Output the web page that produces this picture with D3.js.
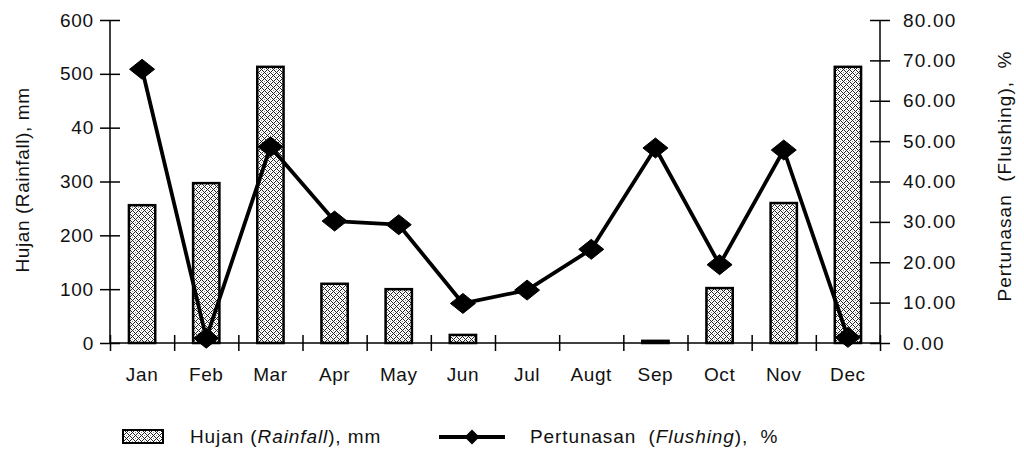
<!DOCTYPE html>
<html>
<head>
<meta charset="utf-8">
<script src="https://cdn.jsdelivr.net/npm/d3@7"></script>
<style>
	html, body { margin: 0; padding: 0; background: #fff; }
	svg { display: block; font-family: "Liberation Sans", Arial, sans-serif; }
	.axis path, .axis line { stroke: #000; stroke-width: 1.5; }
	.axis text { font-size: 19px; fill: #111; font-family: "Liberation Sans", Arial, sans-serif; }
</style>
</head>
<body>
<div id="chart"></div>
<script>
// chart values
var months = ["Jan", "Feb", "Mar", "Apr", "May", "Jun", "Jul", "Augt", "Sep", "Oct", "Nov", "Dec"];
var rainfall = [256, 297, 513, 110, 100, 15, 0, 0, 4, 102, 260, 513];
var flushing = [67.8, 1.2, 48.6, 30.2, 29.3, 9.8, 13.1, 23.2, 48.3, 19.4, 47.8, 1.4];
var leftTicks = [0, 100, 200, 300, 400, 500, 600];
var leftTickLabels = ["0", "100", "200", "300", "40", "500", "600"];
var rightTicks = [0, 10, 20, 30, 40, 50, 60, 70, 80];

var width = 1024, height = 459;
var plot = { left: 110, right: 880, top: 20, bottom: 343 };

var svg = d3.select("#chart").append("svg")
	.attr("width", width)
	.attr("height", height);

// bar fill: small diamond lattice like the old office pattern
var defs = svg.append("defs");
var pat = defs.append("pattern")
	.attr("id", "grid")
	.attr("patternUnits", "userSpaceOnUse")
	.attr("width", 6)
	.attr("height", 6);
pat.append("rect").attr("width", 6).attr("height", 6).attr("fill", "#fff");
var cells = [];
for (var py = 0; py < 6; py++) {
	for (var px = 0; px < 6; px++) {
		if ((px + py) % 6 == 0 || (px - py + 6) % 6 == 0) cells.push({ x: px, y: py, c: "#222" });
		else if ((px == 3 && py == 0) || (px == 0 && py == 3)) cells.push({ x: px, y: py, c: "#888" });
	}
}
pat.selectAll("rect.px").data(cells).enter().append("rect")
	.attr("class", "px")
	.attr("x", d => d.x).attr("y", d => d.y)
	.attr("width", 1).attr("height", 1)
	.attr("fill", d => d.c);

// scales
var x = d3.scaleBand().domain(months).range([plot.left, plot.right]).paddingInner(0).paddingOuter(0);
var xEdge = d3.scaleLinear().domain([0, months.length]).range([plot.left, plot.right]);
var yL = d3.scaleLinear().domain([0, 600]).range([plot.bottom, plot.top]);
var yR = d3.scaleLinear().domain([0, 80]).range([plot.bottom, plot.top]);

// bars
var barW = x.bandwidth() * 0.41;
svg.append("g").selectAll("rect").data(rainfall).enter().append("rect")
	.attr("x", (d, i) => x(months[i]) + x.bandwidth() / 2 - barW / 2)
	.attr("y", d => yL(d))
	.attr("width", barW)
	.attr("height", d => plot.bottom - yL(d))
	.attr("fill", "url(#grid)")
	.attr("stroke", d => d > 0 ? "#000" : "none")
	.attr("stroke-width", 2.5);

// left axis, ticks crossing the line
var gL = svg.append("g").attr("class", "axis")
	.attr("transform", "translate(" + plot.left + ",0)")
	.call(d3.axisLeft(yL).tickValues(leftTicks).tickSize(10).tickPadding(6)
		.tickFormat((d, i) => leftTickLabels[i]));
gL.select(".domain").attr("d", "M0," + plot.top + "V" + plot.bottom);
gL.selectAll(".tick line").attr("x1", 10);
gL.selectAll("text").attr("letter-spacing", 0.8);

// right axis
var gR = svg.append("g").attr("class", "axis")
	.attr("transform", "translate(" + plot.right + ",0)")
	.call(d3.axisRight(yR).tickValues(rightTicks).tickSize(10).tickPadding(13)
		.tickFormat(d3.format(".2f")));
gR.select(".domain").attr("d", "M0," + plot.top + "V" + plot.bottom);
gR.selectAll(".tick line").attr("x1", -10);
gR.selectAll("text").attr("letter-spacing", 1.2);

// bottom axis: ticks on the category edges, labels centred
var gB = svg.append("g").attr("class", "axis")
	.attr("transform", "translate(0," + plot.bottom + ")")
	.call(d3.axisBottom(xEdge).tickValues(d3.range(months.length + 1)).tickSize(8).tickFormat(""));
gB.select(".domain").attr("d", "M" + plot.left + ",0H" + plot.right);
gB.selectAll(".tick line").attr("y1", -8);
var gM = svg.append("g").attr("class", "axis")
	.attr("transform", "translate(0," + plot.bottom + ")")
	.call(d3.axisBottom(x).tickSize(0).tickPadding(25));
gM.select(".domain").remove();
gM.selectAll("text").attr("letter-spacing", 0.6);

// flushing line
var line = d3.line()
	.x((d, i) => x(months[i]) + x.bandwidth() / 2)
	.y(d => yR(d));
svg.append("path")
	.datum(flushing)
	.attr("fill", "none")
	.attr("stroke", "#000")
	.attr("stroke-width", 3.8)
	.attr("stroke-linejoin", "round")
	.attr("d", line);

function diamond(w, h) {
	return "M0," + (-h) + "L" + w + ",0L0," + h + "L" + (-w) + ",0Z";
}
svg.append("g").selectAll("path").data(flushing).enter().append("path")
	.attr("transform", (d, i) => "translate(" + (x(months[i]) + x.bandwidth() / 2) + "," + yR(d) + ")")
	.attr("d", diamond(12.5, 10))
	.attr("fill", "#000")
	.attr("stroke", "#000")
	.attr("stroke-width", 1)
	.attr("stroke-linejoin", "round");

// axis titles
svg.append("text")
	.attr("transform", "translate(29,180) rotate(-90)")
	.attr("text-anchor", "middle")
	.attr("font-size", 19)
	.attr("letter-spacing", 0.6)
	.attr("fill", "#111")
	.text("Hujan (Rainfall), mm");
svg.append("text")
	.attr("transform", "translate(1011,176) rotate(-90)")
	.attr("text-anchor", "middle")
	.attr("font-size", 19)
	.attr("letter-spacing", 1)
	.attr("fill", "#111")
	.style("white-space", "pre")
	.text("Pertunasan  (Flushing),  %");

// legend
var lg = svg.append("g");
lg.append("rect")
	.attr("x", 123).attr("y", 430).attr("width", 40).attr("height", 13)
	.attr("fill", "url(#grid)").attr("stroke", "#000").attr("stroke-width", 2);
var t1 = lg.append("text").attr("x", 190).attr("y", 443).attr("font-size", 19)
	.attr("letter-spacing", 0.9).attr("fill", "#111");
t1.append("tspan").text("Hujan (");
t1.append("tspan").attr("font-style", "italic").text("Rainfall");
t1.append("tspan").text("), mm");

lg.append("line")
	.attr("x1", 439).attr("x2", 505).attr("y1", 437).attr("y2", 437)
	.attr("stroke", "#000").attr("stroke-width", 3.8);
lg.append("path")
	.attr("transform", "translate(472,437)")
	.attr("d", diamond(7.5, 7.5))
	.attr("fill", "#000");
var t2 = lg.append("text").attr("x", 530).attr("y", 443).attr("font-size", 19)
	.attr("letter-spacing", 0.9).attr("fill", "#111")
	.style("white-space", "pre");
t2.append("tspan").text("Pertunasan  (");
t2.append("tspan").attr("font-style", "italic").text("Flushing");
t2.append("tspan").text("),  %");
</script>
</body>
</html>
